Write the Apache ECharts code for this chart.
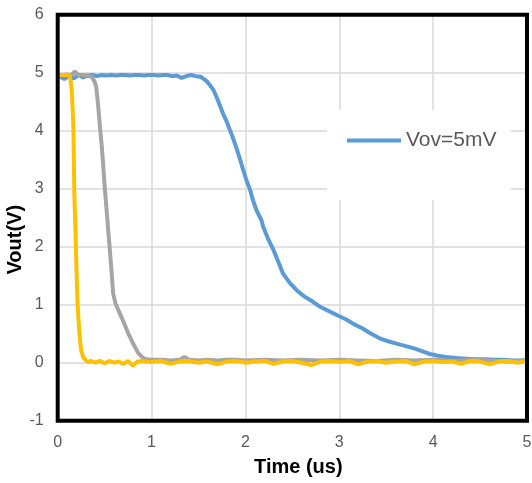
<!DOCTYPE html>
<html>
<head>
<meta charset="utf-8">
<script src="https://cdn.jsdelivr.net/npm/echarts@6/dist/echarts.min.js"></script>
<style>html,body{margin:0;padding:0;background:#fff;}#c{width:532px;height:483px;}</style>
</head>
<body>
<div id="c"></div>
<script>
var xTicks = [0, 1, 2, 3, 4, 5];
var yTicks = [-1, 0, 1, 2, 3, 4, 5, 6];

var blueT = [0.02,0.07,0.12,0.17,0.22,0.27,0.32,0.37,0.42,0.47,0.52,0.57,0.62,0.67,0.72,0.77,0.82,0.87,0.92,0.97,1.02,1.07,1.12,1.17,1.22,1.27,1.32,1.37,1.42,1.47,1.52,1.55,1.59,1.62,1.66,1.69,1.72,1.76,1.80,1.835,1.87,1.905,1.94,1.977,2.01,2.05,2.08,2.12,2.17,2.19,2.24,2.30,2.35,2.40,2.47,2.545,2.63,2.72,2.80,2.90,2.99,3.08,3.16,3.25,3.34,3.43,3.52,3.61,3.70,3.79,3.88,3.965,4.05,4.14,4.25,4.35,4.45,4.55,4.65,4.75,4.85,4.95,5.0];
var blueV = [4.94,4.89,4.95,4.90,4.96,4.92,4.95,4.96,4.94,4.96,4.95,4.96,4.95,4.96,4.96,4.95,4.96,4.96,4.95,4.96,4.96,4.95,4.96,4.96,4.94,4.95,4.91,4.94,4.96,4.94,4.93,4.90,4.85,4.79,4.70,4.59,4.47,4.30,4.16,4.01,3.86,3.70,3.52,3.32,3.15,2.98,2.80,2.62,2.46,2.34,2.14,1.94,1.74,1.54,1.38,1.25,1.14,1.05,0.96,0.88,0.81,0.74,0.66,0.59,0.50,0.42,0.37,0.33,0.29,0.25,0.20,0.15,0.12,0.10,0.08,0.07,0.06,0.06,0.05,0.05,0.04,0.04,0.05];

var grayT = [0.0,0.05,0.10,0.15,0.18,0.22,0.27,0.32,0.36,0.39,0.41,0.43,0.45,0.47,0.486,0.50,0.515,0.53,0.545,0.556,0.575,0.59,0.615,0.645,0.70,0.75,0.80,0.86,0.91,0.95,1.0,1.1,1.2,1.3,1.35,1.4,1.5,1.6,1.7,1.8,1.9,2.0,2.2,2.4,2.6,2.8,3.0,3.2,3.4,3.6,3.8,4.0,4.2,4.4,4.6,4.8,5.0];
var grayV = [4.95,4.96,4.97,4.96,5.02,4.96,4.96,4.95,4.93,4.86,4.76,4.45,4.07,3.72,3.38,3.05,2.75,2.45,2.15,1.94,1.55,1.20,1.02,0.91,0.71,0.51,0.34,0.16,0.08,0.06,0.05,0.05,0.04,0.05,0.10,0.05,0.04,0.05,0.04,0.05,0.05,0.04,0.05,0.04,0.05,0.04,0.05,0.04,0.03,0.05,0.04,0.05,0.03,0.05,0.04,0.02,0.04];

var yellowT = [0.0,0.05,0.10,0.13,0.15,0.167,0.177,0.19,0.20,0.21,0.225,0.237,0.25,0.27,0.30,0.325,0.35,0.40,0.45,0.50,0.55,0.60,0.65,0.70,0.75,0.80,0.85,0.90,1.0,1.1,1.2,1.3,1.4,1.5,1.6,1.7,1.8,1.9,2.0,2.1,2.2,2.3,2.4,2.5,2.6,2.7,2.8,2.9,3.0,3.1,3.2,3.3,3.4,3.5,3.6,3.7,3.8,3.9,4.0,4.1,4.2,4.3,4.4,4.5,4.6,4.7,4.8,4.9,5.0];
var yellowV = [4.96,4.96,4.96,4.95,4.70,4.07,2.93,2.23,1.60,1.08,0.65,0.39,0.22,0.10,0.04,0.01,0.03,0.00,0.03,-0.01,0.03,0.00,0.02,-0.02,0.03,-0.05,0.02,0.03,0.01,0.03,-0.02,0.02,0.03,0.00,0.02,-0.03,0.02,0.03,0.00,0.02,0.03,-0.02,0.02,0.03,0.00,-0.04,0.02,0.03,0.01,0.03,-0.03,0.02,0.03,0.00,0.02,0.03,-0.03,0.02,0.03,0.01,0.02,-0.02,0.03,0.02,-0.03,0.02,0.03,0.00,0.03];

function pairs(t, v) { return t.map(function (x, i) { return [x, v[i]]; }); }

var chart = echarts.init(document.getElementById('c'), null, {renderer: 'canvas'});
var labelStyle = {color: '#595959', fontSize: 16, fontFamily: 'Liberation Sans, Arial, sans-serif'};
chart.setOption({
  animation: false,
  backgroundColor: '#fff',
  grid: {left: 57.7, right: 5, top: 14.7, bottom: 62.3, outerBoundsMode: 'none', containLabel: false, show: true, borderColor: '#000', borderWidth: 4, backgroundColor: 'transparent', z: 10},
  legend: {
    data: ['Vov=5mV'],
    left: 327, top: 110,
    padding: [20, 14, 49, 20],
    itemWidth: 54, itemHeight: 24,
    backgroundColor: '#fff',
    icon: 'path://M0,10 L54,10 L54,14 L0,14 Z',
    textStyle: {color: '#595959', fontSize: 21, fontFamily: 'Liberation Sans, Arial, sans-serif'}
  },
  xAxis: {
    type: 'value', min: xTicks[0], max: xTicks[xTicks.length - 1], interval: 1,
    name: 'Time (us)', nameLocation: 'middle', nameGap: 37, nameMoveOverlap: false,
    nameTextStyle: {color: '#000', fontSize: 20, fontWeight: 'bold', fontFamily: 'Liberation Sans, Arial, sans-serif', padding: [0, 0, 0, 12]},
    axisLine: {show: false}, axisTick: {show: false},
    axisLabel: Object.assign({margin: 14}, labelStyle),
    splitLine: {show: true, lineStyle: {color: '#d9d9d9', width: 1.5}}
  },
  yAxis: {
    type: 'value', min: yTicks[0], max: yTicks[yTicks.length - 1], interval: 1,
    name: 'Vout(V)', nameLocation: 'middle', nameGap: 32, nameMoveOverlap: false,
    nameTextStyle: {color: '#000', fontSize: 20, fontWeight: 'bold', fontFamily: 'Liberation Sans, Arial, sans-serif', padding: [0, 44, 0, 0]},
    axisLine: {show: false}, axisTick: {show: false},
    axisLabel: Object.assign({margin: 14}, labelStyle),
    splitLine: {show: true, lineStyle: {color: '#d9d9d9', width: 1.5}}
  },
  series: [
    {name: 'Vov=5mV', type: 'line', data: pairs(blueT, blueV), showSymbol: false, symbol: 'none', color: '#5B9BD5', lineStyle: {width: 4, color: '#5B9BD5'}, z: 2},
    {name: 'gray', type: 'line', data: pairs(grayT, grayV), showSymbol: false, symbol: 'none', color: '#A5A5A5', lineStyle: {width: 4, color: '#A5A5A5'}, z: 3},
    {name: 'yellow', type: 'line', data: pairs(yellowT, yellowV), showSymbol: false, symbol: 'none', color: '#FFC000', lineStyle: {width: 4, color: '#FFC000'}, z: 4}
  ]
});
</script>
</body>
</html>
